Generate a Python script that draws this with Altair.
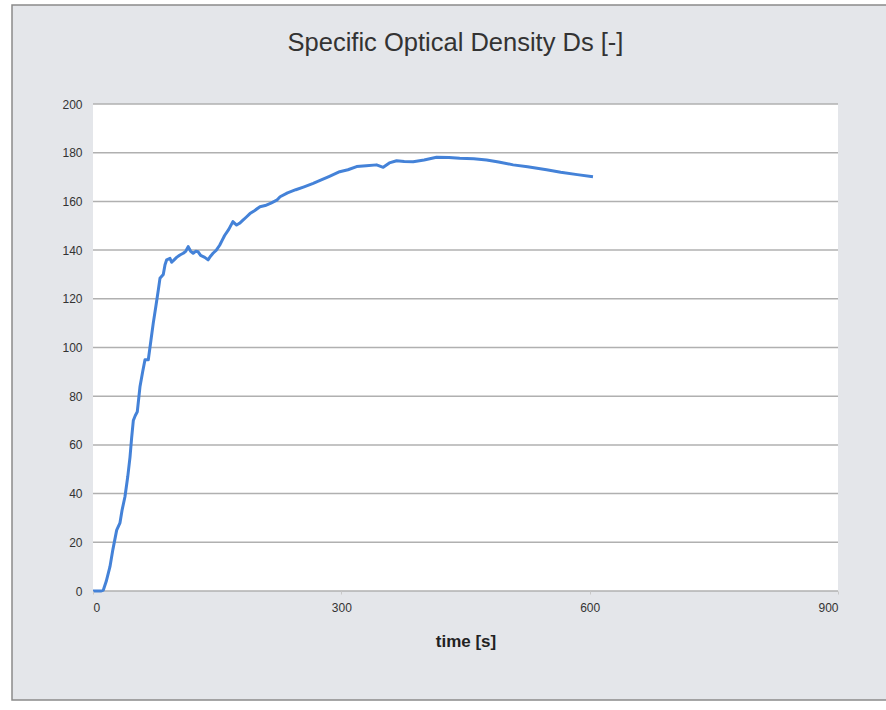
import altair as alt
import pandas as pd

# time [s]
t = [0, 5, 10, 12.5, 16, 20.5, 24, 28.6, 32.6, 35, 38.6, 42, 44.7, 46.7, 48.7, 51, 53.5,
     56.8, 60, 62.8, 66.8, 70, 72.8, 76, 78.9, 80.9, 84.9, 87, 89, 93, 95, 98, 101, 105,
     109, 112, 115, 118, 121, 124, 127, 130, 135, 139, 142, 145, 149, 153, 156, 159, 164,
     169, 173.5, 177, 181.5, 185, 189.6, 195, 201.7, 208, 215, 222, 226, 235, 245, 255,
     266, 275, 285, 298, 308, 318.5, 330, 342.6, 350.6, 358, 366.8, 376, 386.8, 400, 415,
     430, 443, 460, 475.5, 490, 507.6, 525, 548, 565, 585, 604]
# Specific optical density Ds [-]
ds = [0, 0, 0, 0.4, 4, 10, 17, 25, 28, 33, 38.7, 47, 55, 63, 70, 72, 73.6,
      84, 90, 95, 95, 103, 110, 117, 123.6, 128.4, 130, 134, 136, 136.6, 135, 136, 137, 138,
      138.7, 139.5, 141.4, 139.5, 138.7, 139.5, 139.3, 137.8, 137, 136, 137.5, 138.7, 140, 142, 144, 146, 148.5,
      151.7, 150.3, 151, 152.4, 153.5, 155, 156.2, 157.8, 158.3, 159.3, 160.5, 161.9, 163.5, 164.8, 166,
      167.4, 168.7, 170.2, 172.2, 173, 174.3, 174.6, 175, 174, 175.8, 176.7, 176.4, 176.3, 177, 178.1,
      178, 177.7, 177.5, 177, 176.2, 175, 174.2, 173, 172, 171, 170.1]

y_ticks = [0, 20, 40, 60, 80, 100, 120, 140, 160, 180, 200]
x_ticks = [0, 300, 600, 900]

W, H = 745, 487
FONT = "Liberation Sans"

df = pd.DataFrame({"t": t, "ds": ds})
grid_df = pd.DataFrame({"v": y_ticks})
one = pd.DataFrame({"a": [0]})

xscale = alt.Scale(domain=[0, 900], nice=False)
yscale = alt.Scale(domain=[0, 200], nice=False)

yaxis = alt.Axis(values=y_ticks, grid=False, domain=False, ticks=False, labelPadding=11,
                 labelFontSize=12, labelColor="#333333", labelFont=FONT, title=None, zindex=1)
xaxis = alt.Axis(values=x_ticks, grid=False, domain=False, ticks=True, tickSize=3,
                 tickColor="#c8c8c8", labelPadding=8, labelFontSize=12, labelColor="#333333",
                 labelFont=FONT, title="time [s]", titleFont=FONT, titleFontSize=17,
                 titleFontWeight="bold", titleColor="#222222", titlePadding=20, zindex=1)

frame = alt.Chart(one).mark_rect(fill="#e4e6ea", stroke="#8a8a8a", strokeWidth=1.5, clip=False).encode(
    x=alt.value(-81), x2=alt.value(803), y=alt.value(-99), y2=alt.value(596)
)
plot_bg = alt.Chart(one).mark_rect(fill="white").encode(
    x=alt.value(0), x2=alt.value(W), y=alt.value(0), y2=alt.value(H)
)
grid = alt.Chart(grid_df).mark_rule(color="#b0b0b0", strokeWidth=1.5).encode(
    y=alt.Y("v:Q", scale=yscale, axis=yaxis),
    x=alt.value(0), x2=alt.value(W)
)
line = alt.Chart(df).mark_line(color="#4482d8", strokeWidth=3, strokeJoin="round").encode(
    x=alt.X("t:Q", scale=xscale, axis=xaxis),
    y=alt.Y("ds:Q", scale=yscale, axis=yaxis)
)

chart = alt.layer(frame, plot_bg, grid, line).properties(
    width=W, height=H,
    title=alt.TitleParams("Specific Optical Density Ds [-]", font=FONT, fontSize=25.5,
                          fontWeight="normal", color="#333333", anchor="middle",
                          offset=-52, dx=-10),
    autosize=alt.AutoSizeParams(type="none"),
    padding={"left": 93, "top": 104, "right": 48, "bottom": 119},
).configure(background="white").configure_view(stroke=None)

chart.save("out.html", embed_options={"renderer": "svg", "actions": False})
